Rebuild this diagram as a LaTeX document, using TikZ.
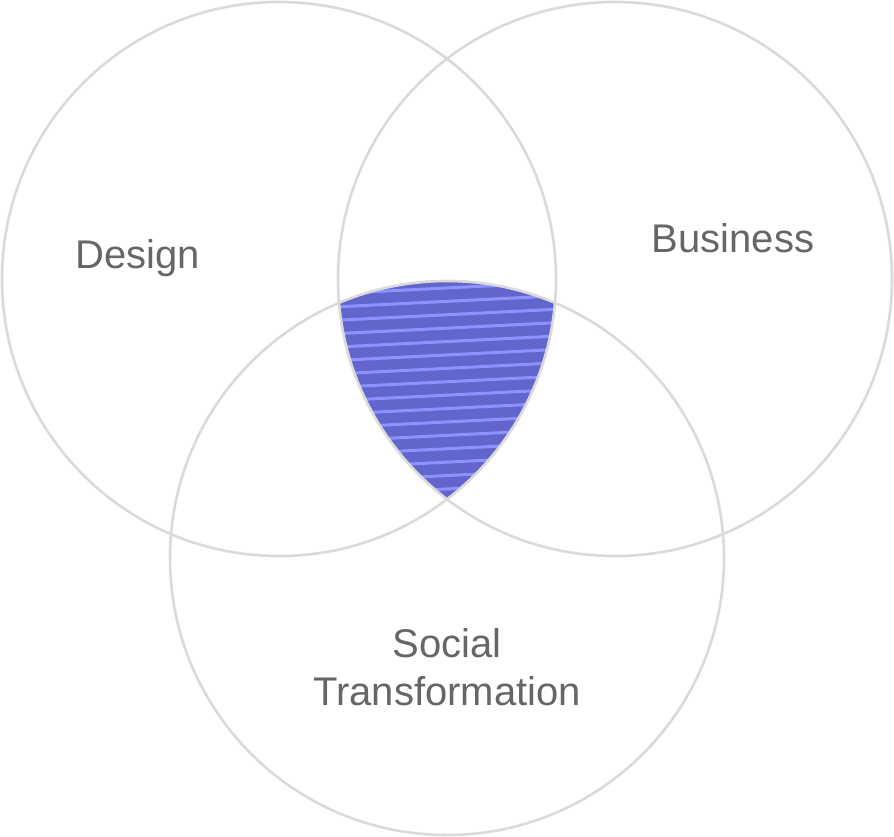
\documentclass[tikz,border=0pt]{standalone}
\usepackage{fontspec}
\setmainfont{Liberation Sans}
\definecolor{ring}{HTML}{DADADA}
\definecolor{lbl}{HTML}{666666}
\definecolor{core}{HTML}{6165CC}
\definecolor{stripe}{HTML}{8D92FF}
\begin{document}
\begin{tikzpicture}[x=1pt,y=-1pt,
  ringstyle/.style={draw=ring,line width=2.6pt},
  label/.style={text=lbl,inner sep=0pt,anchor=base,align=center,
    font=\fontsize{40}{48}\selectfont},
  stripeline/.style={draw=stripe,line width=3pt}]
\useasboundingbox (0,0) rectangle (894,837);
\coordinate (cl) at (279,279);
\coordinate (cr) at (615,279);
\coordinate (cb) at (447,558);
% shaded intersection
\begin{scope}
  \clip (cl) circle[radius=277];
  \clip (cr) circle[radius=277];
  \clip (cb) circle[radius=277];
  \fill[core] (300,250) rectangle (600,520);
  \foreach \k in {-3,...,16}{
    \draw[stripeline] (300,{308.7+13.4*\k}) -- (600,{293.7+13.4*\k});
  }
\end{scope}
\draw[ringstyle] (cl) circle[radius=277];
\draw[ringstyle] (cr) circle[radius=277];
\draw[ringstyle] (cb) circle[radius=277];
\node[label] (design) at (138,268) {Design};
\node[label] (business) at (733,252) {Business};
\node[label] (social) at (447,705) {Social\\Transformation};
\end{tikzpicture}
\end{document}
